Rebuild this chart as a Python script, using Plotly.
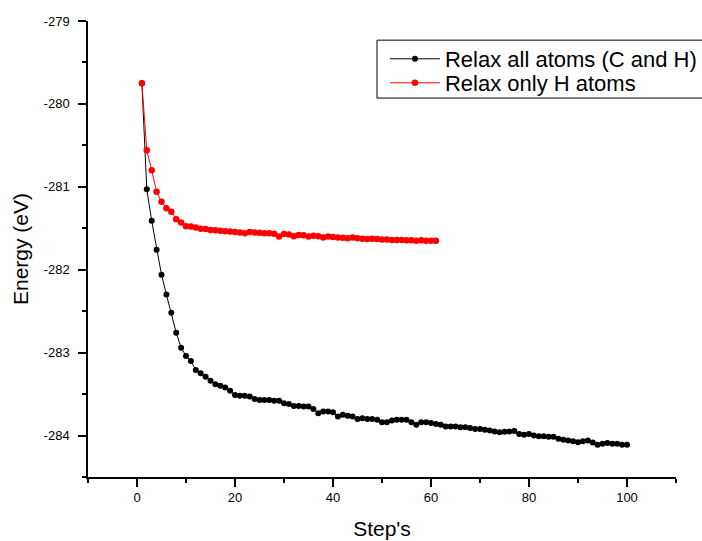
import plotly.graph_objects as go

steps_all = list(range(1, 101))
energy_all = [
    -279.75, -281.03, -281.41, -281.76, -282.06, -282.30, -282.52, -282.76, -282.94, -283.04,
    -283.10, -283.21, -283.25, -283.29, -283.34, -283.38, -283.40, -283.42, -283.46, -283.51,
    -283.52, -283.52, -283.53, -283.56, -283.57, -283.57, -283.57, -283.58, -283.58, -283.61,
    -283.62, -283.645, -283.645, -283.65, -283.65, -283.68, -283.73, -283.71, -283.71, -283.72,
    -283.77, -283.75, -283.76, -283.77, -283.80, -283.79, -283.80, -283.80, -283.81, -283.84,
    -283.84, -283.82, -283.81, -283.81, -283.81, -283.84, -283.87, -283.84, -283.84, -283.85,
    -283.86, -283.87, -283.89, -283.89, -283.89, -283.90, -283.90, -283.91, -283.92, -283.92,
    -283.93, -283.94, -283.95, -283.96, -283.955, -283.95, -283.945, -283.98, -283.99, -283.98,
    -284.00, -284.01, -284.01, -284.015, -284.015, -284.04, -284.05, -284.06, -284.07, -284.08,
    -284.07, -284.06, -284.085, -284.11, -284.10, -284.09, -284.10, -284.10, -284.11, -284.11,
]

steps_h = list(range(1, 62))
energy_h = [
    -279.75, -280.56, -280.80, -281.06, -281.18, -281.26, -281.30, -281.39, -281.43, -281.475,
    -281.48, -281.49, -281.505, -281.51, -281.52, -281.525, -281.53, -281.535, -281.54, -281.545,
    -281.55, -281.56, -281.545, -281.55, -281.555, -281.56, -281.56, -281.565, -281.60, -281.57,
    -281.575, -281.595, -281.58, -281.585, -281.60, -281.59, -281.595, -281.61, -281.60, -281.605,
    -281.61, -281.615, -281.62, -281.61, -281.62, -281.625, -281.63, -281.625, -281.63, -281.635,
    -281.635, -281.64, -281.64, -281.64, -281.645, -281.645, -281.65, -281.645, -281.65, -281.65,
    -281.65,
]

x_tickvals = [0, 20, 40, 60, 80, 100]
x_ticktext = ["0", "20", "40", "60", "80", "100"]
y_tickvals = [-284, -283, -282, -281, -280, -279]
y_ticktext = ["-284", "-283", "-282", "-281", "-280", "-279"]

name_all = "Relax all atoms (C and H)"
name_h = "Relax only H atoms"
x_title = "Step's"
y_title = "Energy (eV)"

FONT = "Liberation Sans, Arial, sans-serif"

fig = go.Figure()
fig.add_trace(go.Scatter(
    x=steps_all, y=energy_all, mode="lines+markers", name=name_all,
    line=dict(color="black", width=1),
    marker=dict(color="black", size=6, symbol="circle"),
    legend="legend",
))
fig.add_trace(go.Scatter(
    x=steps_h, y=energy_h, mode="lines+markers", name=name_h,
    line=dict(color="#ff0000", width=1),
    marker=dict(color="#ff0000", size=6.5, symbol="circle"),
    legend="legend2",
))

axis_common = dict(
    showline=True, linecolor="black", linewidth=1.5, mirror=False,
    showgrid=False, zeroline=False,
    ticks="outside", ticklen=8, tickwidth=1.5, tickcolor="black",
    tickfont=dict(family=FONT, size=13, color="black"),
)

fig.update_xaxes(
    range=[-10, 110], tickmode="array", tickvals=x_tickvals, ticktext=x_ticktext,
    minor=dict(dtick=10, tick0=0, ticks="outside", ticklen=4, tickwidth=1.5, tickcolor="black"),
    title=dict(text=x_title, font=dict(family=FONT, size=21, color="black"), standoff=17),
    ticklabelstandoff=0,
    **axis_common,
)
fig.update_yaxes(
    range=[-284.5, -279], tickmode="array", tickvals=y_tickvals, ticktext=y_ticktext,
    minor=dict(dtick=0.5, tick0=-284, ticks="outside", ticklen=4, tickwidth=1.5, tickcolor="black"),
    title=dict(text=y_title, font=dict(family=FONT, size=21, color="black"), standoff=9),
    ticklabelstandoff=6,
    **axis_common,
)

legend_style = dict(
    xanchor="left", yanchor="middle",
    bgcolor="rgba(0,0,0,0)", borderwidth=0,
    font=dict(family=FONT, size=22, color="black"),
    itemwidth=50,
)

fig.update_layout(
    width=702, height=541,
    margin=dict(l=88, r=26, t=21, b=64, autoexpand=False),
    paper_bgcolor="white", plot_bgcolor="white",
    font=dict(family=FONT, color="black"),
    showlegend=True,
    legend=dict(x=0.505, y=0.9167, **legend_style),
    legend2=dict(x=0.505, y=0.864, **legend_style),
    shapes=[dict(
        type="rect", xref="paper", yref="paper",
        x0=0.4915, x1=1.06, y0=0.831, y1=0.958,
        line=dict(color="black", width=1), fillcolor="white", layer="below",
    )],
)

fig.write_html("out.html")
